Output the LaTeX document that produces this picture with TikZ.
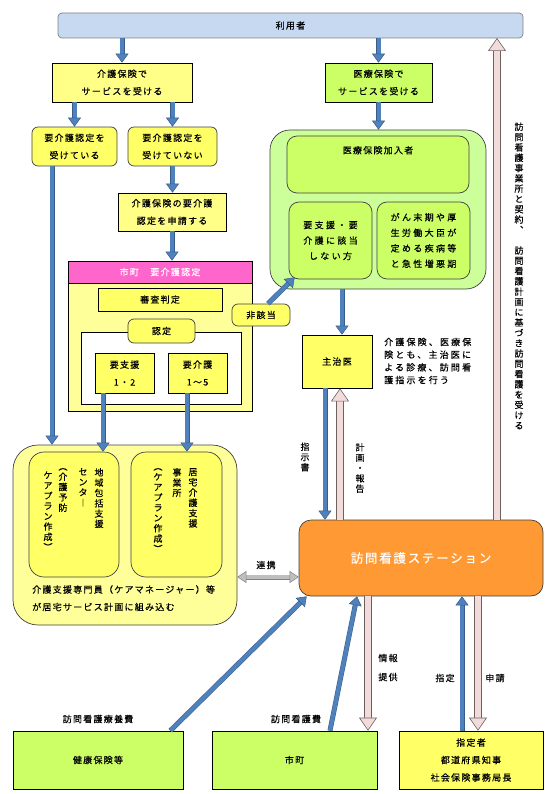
\documentclass[tikz,border=0pt]{standalone}
\usepackage{fontspec}
\setmainfont{Noto Sans CJK JP}[LetterSpace=14, FakeBold=0.4]
\usepackage{tikz}
\usetikzlibrary{arrows.meta}
\usetikzlibrary{calc}

\definecolor{riyoblue}{HTML}{C6D9F1}
\definecolor{kaigoyel}{HTML}{FFFF88}
\definecolor{boxyel}{HTML}{FFFF66}
\definecolor{paleyel}{HTML}{FFFF99}
\definecolor{iryogreen}{HTML}{CCFF66}
\definecolor{palegreen}{HTML}{CCFF99}
\definecolor{headpink}{HTML}{FF66CC}
\definecolor{stationorange}{HTML}{FF9933}
\definecolor{arrowblue}{HTML}{4F81BD}
\definecolor{arrowedge}{HTML}{385D8A}
\definecolor{pinkfill}{HTML}{F2DCDB}
\definecolor{pinkedge}{HTML}{6F6060}
\definecolor{grayfill}{HTML}{BFBFBF}
\definecolor{edgegray}{HTML}{404040}

\newcommand{\boxfont}{\fontsize{9}{17.5}\selectfont}
\newcommand{\tightfont}{\fontsize{9}{15.5}\selectfont\addfontfeature{LetterSpace=26}}
\newcommand{\notefont}{\fontsize{9}{12.7}\selectfont\addfontfeature{LetterSpace=24}}
\newcommand{\tatefont}{\fontsize{9}{10.3}\selectfont\addfontfeature{LetterSpace=0}}

% vertical writing: one character per line
\newcommand{\tate}[1]{\vbox{\baselineskip=10.3pt\lineskiplimit=-5pt\tateaux#1\relax}}
\def\tateaux#1{\ifx\relax#1\else\hbox to 10.3pt{\hss#1\hss}\expandafter\tateaux\fi}

\tikzset{%
    wh/.style 2 args={minimum width=#1pt, minimum height=#2pt},
    sqbox/.style={draw=black, line width=0.7pt, inner sep=0pt, align=center, font=\boxfont},
    rbox/.style={draw=edgegray, line width=0.7pt, rounded corners=6pt, inner sep=0pt, align=center, font=\boxfont},
    plain/.style={inner sep=0pt, align=center, font=\boxfont},
    tatelabel/.style={inner sep=0pt, font=\tatefont},
    bluearrow/.style={draw=arrowedge, line width=0.5pt, double=arrowblue, double distance=4pt,
        -{Triangle[length=9pt,width=13pt,fill=arrowblue]}},
    pinkarrow/.style={draw=pinkedge, line width=0.6pt, double=pinkfill, double distance=6pt,
        -{Triangle[length=13pt,width=18pt,fill=pinkfill]}},
    grayarrow/.style={draw=gray, line width=0.5pt, double=grayfill, double distance=4pt,
        {Triangle[length=9pt,width=12pt,fill=grayfill]}-{Triangle[length=9pt,width=12pt,fill=grayfill]}}
}

\begin{document}
\begin{tikzpicture}[x=1pt,y=-1pt]
    \useasboundingbox (0,0) rectangle (550,794);

    % top row
    \node[rbox, fill=riyoblue, wh={465}{25}, rounded corners=4pt, draw=gray] (riyo) at (290.5,25.5) {利用者};
    \node[sqbox, fill=kaigoyel, wh={140}{39}] (kaigo) at (122,82.5) {介護保険で\\サービスを受ける};
    \node[sqbox, fill=iryogreen, wh={107}{39}] (iryo) at (378.5,82.5) {医療保険で\\サービスを受ける};
    \node[rbox, fill=boxyel, wh={85}{39}] (ukeru) at (74.5,146.5) {要介護認定を\\受けている};
    \node[rbox, fill=boxyel, wh={89}{39}] (ukenai) at (172.5,146.5) {要介護認定を\\受けていない};
    \node[sqbox, fill=kaigoyel, wh={108}{38}] (shinsei) at (172,212) {介護保険の要介護\\認定を申請する};

    % 市町 要介護認定
    \node[sqbox, fill=paleyel, wh={184}{150}] (shicho) at (160,336) {};
    \node[sqbox, fill=headpink, text=white, wh={184}{22}] (shichohead) at (160,272) {市町　要介護認定};
    \node[sqbox, fill=boxyel, wh={124}{23}] (shinsa) at (160,299.5) {審査判定};
    \node[sqbox, fill=white, wh={160}{72}] (ninteiframe) at (161,368) {};
    \node[rbox, fill=boxyel, wh={67}{24}] (nintei) at (161.5,331) {認定};
    \node[sqbox, fill=boxyel, wh={59}{40}] (yoshien) at (124.5,373) {要支援\\1・2};
    \node[sqbox, fill=boxyel, wh={59}{40}] (yokaigo) at (197.5,373) {要介護\\1〜5};
    \node[rbox, fill=boxyel, wh={58}{22}] (higaito) at (261,315) {非該当};

    % 医療保険
    \node[rbox, fill=palegreen, wh={216}{159}, rounded corners=20pt] (iryogroup) at (378,209.5) {};
    \node[rbox, fill=iryogreen, wh={182}{57}, rounded corners=10pt,
        label={[plain, yshift=-19pt]north:医療保険加入者}] (kanyusha) at (378,164.5) {};
    \node[rbox, fill=iryogreen, wh={83}{77}, rounded corners=10pt, font=\tightfont] (gaitonashi) at (330.5,240.5) {要支援・要\\介護に該当\\しない方};
    \node[rbox, fill=iryogreen, wh={93}{77}, rounded corners=10pt, font=\tightfont] (ganmakki) at (423.5,240.5) {がん末期や厚\\生労働大臣が\\定める疾病等\\と急性増悪期};
    \node[sqbox, fill=boxyel, wh={70}{53}] (shujii) at (337,361.5) {主治医};
    \node[plain, anchor=west, align=left, font=\notefont] (shujiinote) at (384,361) {介護保険、医療保\\険とも、主治医に\\よる診療、訪問看\\護指示を行う};

    % ケアプラン
    \node[rbox, fill=paleyel, wh={224}{180}, rounded corners=25pt] (caregroup) at (125,535) {};
    \node[rbox, fill=boxyel, wh={90}{125}, rounded corners=15pt] (houkatsu) at (74,514.5) {};
    \node[rbox, fill=boxyel, wh={91}{125}, rounded corners=15pt] (kyotaku) at (176.5,514.5) {};
    \node[tatelabel, anchor=north] (houkatsuA) at (99,468) {\tate{地域包括支援}};
    \node[tatelabel, anchor=north] (houkatsuB) at (83,468) {\tate{センタ︱}};
    \node[tatelabel, anchor=north] (houkatsuC) at (63,468) {\tate{︵介護予防}};
    \node[tatelabel, anchor=north] (houkatsuD) at (48,468) {\tate{　ケアプラン作成︶}};
    \node[tatelabel, anchor=north] (kyotakuA) at (193,468) {\tate{居宅介護支援}};
    \node[tatelabel, anchor=north] (kyotakuB) at (177,468) {\tate{事業所}};
    \node[tatelabel, anchor=north] (kyotakuC) at (158,468) {\tate{︵ケアプラン作成︶}};
    \node[plain, anchor=north west, align=left] (caretext) at (32,585) {介護支援専門員（ケアマネージャー）等\\が居宅サービス計画に組み込む};

    % station
    \node[rbox, fill=stationorange, wh={244}{76}, rounded corners=12pt, text=white,
        font=\fontsize{12.5}{15}\selectfont] (station) at (421,558) {訪問看護ステーション};

    % bottom row
    \node[sqbox, fill=iryogreen, wh={170}{58}] (kenpo) at (98,760) {健康保険等};
    \node[sqbox, fill=iryogreen, wh={165}{58}] (shichofee) at (294.5,760) {市町};
    \node[sqbox, fill=boxyel, wh={144}{58}] (shitei) at (471,760) {指定者\\都道府県知事\\社会保険事務局長};
    \node[plain] (ryoyohi) at (98,719) {訪問看護療養費};
    \node[plain] (kangohi) at (296,719) {訪問看護費};

    % connector labels
    \node[tatelabel] (shijisho) at (305,457) {\tate{指示書}};
    \node[tatelabel] (keikaku) at (360,468) {\tate{計画・報告}};
    \node[tatelabel] (keiyakutext) at (519,276) {\tate{訪問看護事業所と契約︑　訪問看護計画に基づき訪問看護を受ける}};
    \node[plain, font=\fontsize{9}{19}\selectfont] (johotext) at (388,667.5) {情報\\提供};
    \node[plain] (shiteitext) at (445,678) {指定};
    \node[plain] (shinseitext) at (495,678) {申請};
    \node[plain] (renkeitext) at (266,565) {連携};

    \coordinate (ukeruout) at ([xshift=-22.5pt]ukeru.south);
    \coordinate (yoshienout) at ([xshift=-21.5pt]yoshien.south);
    \coordinate (yokaigoout) at ([xshift=-10.5pt]yokaigo.south);
    \coordinate (shujiiin) at ([xshift=5pt]shujii.north);
    \coordinate (shijiout) at ([xshift=-12pt]shujii.south);
    \coordinate (hokokuin) at ([xshift=3pt]shujii.south);
    \coordinate (keiyaku) at (497,38);
    \coordinate (renkei) at (268,577);
    \coordinate (johoout) at ([xshift=-53pt]station.south);
    \coordinate (shiteiup) at ([xshift=-9pt]shitei.north);
    \coordinate (shinseidown) at ([xshift=7pt]shitei.north);

    \draw[bluearrow] (kaigo.north |- riyo.south) -- (kaigo.north);
    \draw[bluearrow] (iryo.north |- riyo.south) -- (iryo.north);
    \draw[bluearrow] (ukeru.north |- kaigo.south) -- (ukeru.north);
    \draw[bluearrow] (ukenai.north |- kaigo.south) -- (ukenai.north);
    \draw[bluearrow] (ukenai.south) -- (ukenai.south |- shinsei.north);
    \draw[bluearrow] (shinsei.south) -- (shinsei.south |- shichohead.north);
    \draw[bluearrow] (iryo.south) -- (iryo.south |- iryogroup.north);
    \draw[bluearrow] (ukeruout) -- (ukeruout |- caregroup.north);
    \draw[bluearrow] (yoshienout) -- (yoshienout |- houkatsu.north);
    \draw[bluearrow] (yokaigoout) -- (yokaigoout |- kyotaku.north);
    \draw[bluearrow] ([xshift=7pt]higaito.north) -- ([xshift=6pt,yshift=2pt]gaitonashi.south west);
    \draw[bluearrow] (shujiiin |- iryogroup.south) -- (shujiiin);
    \draw[bluearrow] (shijiout) -- (shijiout |- station.north);
    \draw[pinkarrow] (hokokuin |- station.north) -- (hokokuin);
    \draw[pinkarrow] (keiyaku |- station.north) -- (keiyaku);
    \draw[grayarrow] (renkei -| caregroup.east) -- (renkei -| station.west);

    \draw[bluearrow] ([xshift=-13pt]kenpo.north east) -- ([xshift=8pt]station.south west);
    \draw[bluearrow] ([xshift=35.5pt]shichofee.north) -- ([xshift=-64pt]station.south);
    \draw[pinkarrow] (johoout) -- (johoout |- shichofee.north);
    \draw[bluearrow] (shiteiup) -- (shiteiup |- station.south);
    \draw[pinkarrow] (shinseidown |- station.south) -- (shinseidown);
\end{tikzpicture}
\end{document}
